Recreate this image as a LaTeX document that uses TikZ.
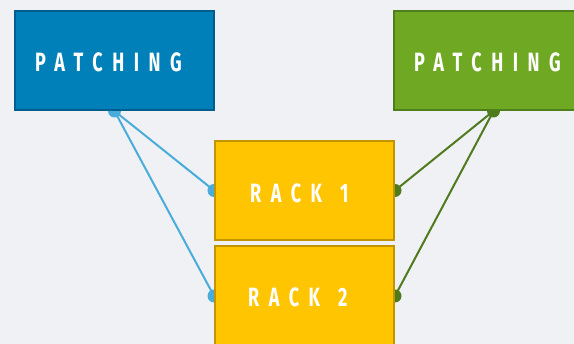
\documentclass[tikz,border=0pt]{standalone}
\usepackage{fontspec}
\setmainfont{Fira Sans}
\newfontfamily\labelfont[FakeStretch=0.68,LetterSpace=36]{Fira Sans Bold}
\usetikzlibrary{backgrounds}
\definecolor{bgc}{HTML}{EFF1F5}
\definecolor{bluefill}{HTML}{0080B8}
\definecolor{blueedge}{HTML}{005E8E}
\definecolor{blueline}{HTML}{4AACDA}
\definecolor{greenfill}{HTML}{6FA823}
\definecolor{greenedge}{HTML}{4E7F1A}
\definecolor{greenline}{HTML}{507A1E}
\definecolor{yelfill}{HTML}{FFC500}
\definecolor{yeledge}{HTML}{C29400}
\tikzset{
  box/.style={rectangle, line width=2pt, minimum width=199pt, minimum height=99pt, inner sep=0pt},
  rackbox/.style={box, draw=yeledge, fill=yelfill, minimum width=179pt},
  lbl/.style={anchor=base west, inner sep=0pt, font=\fontsize{26.5}{26.5}\labelfont, text=white},
  conn/.style={line width=2pt},
  dot/.style={circle, inner sep=0pt, minimum size=13pt}
}
\begin{document}
\begin{tikzpicture}[x=1pt,y=-1pt]
\useasboundingbox (0,0) rectangle (574,344);
\clip (0,0) rectangle (574,344);
\node[box, draw=blueedge, fill=bluefill] (pb) at (114.5,60.5) {};
\node[box, draw=greenedge, fill=greenfill] (pg) at (493.5,60.5) {};
\node[rackbox] (r1) at (304.5,190.5) {};
\node[rackbox] (r2) at (304.5,296) {};
\node[lbl] (pbt) at (35,72) {PATCHING};
\node[lbl] (pgt) at (414,72) {PATCHING};
\node[lbl] (r1t) at (250,203) {RACK\hspace{18pt}1};
\node[lbl] (r2t) at (248,307) {RACK\hspace{18pt}2};
\begin{scope}[on background layer]
  \fill[bgc] (0,0) rectangle (574,344);
  \draw[conn, blueline] (pb.south) -- (r1.west);
  \draw[conn, blueline] (pb.south) -- (r2.west);
  \draw[conn, greenline] (pg.south) -- (r1.east);
  \draw[conn, greenline] (pg.south) -- (r2.east);
  \node[dot, fill=blueline] (db0) at (pb.south) {};
  \node[dot, fill=blueline] (db1) at (r1.west) {};
  \node[dot, fill=blueline] (db2) at (r2.west) {};
  \node[dot, fill=greenline] (dg0) at (pg.south) {};
  \node[dot, fill=greenline] (dg1) at (r1.east) {};
  \node[dot, fill=greenline] (dg2) at (r2.east) {};
\end{scope}
\end{tikzpicture}
\end{document}
